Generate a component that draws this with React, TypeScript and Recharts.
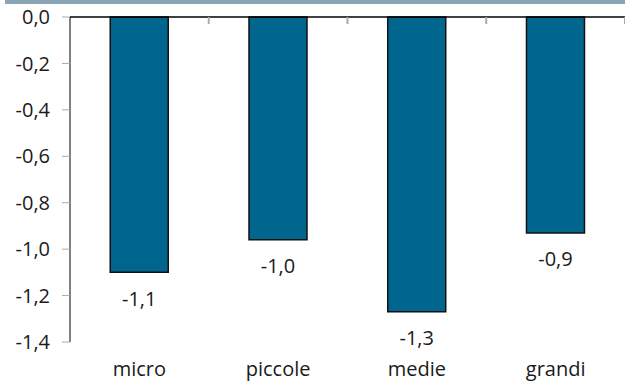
import { BarChart, Bar, XAxis, YAxis, LabelList, ReferenceLine } from "recharts";

const categories = ["micro", "piccole", "medie", "grandi"];
const values = [-1.1, -0.96, -1.27, -0.93];
const yTicks = [0, -0.2, -0.4, -0.6, -0.8, -1.0, -1.2, -1.4];

const data = categories.map((c, i) => ({ name: c, value: values[i] }));

const FONT = "'Open Sans', sans-serif";
const TOP = 17;
const fmt = (v: number) => v.toFixed(1).replace(".", ",").replace("-0,0", "0,0");

function ValueLabel(props: any) {
  const { x, y, width, height, value } = props;
  const end = Math.max(y, y + height);
  return (
    <text
      x={x + width / 2}
      y={end + 26}
      textAnchor="middle"
      dominantBaseline="central"
      fontSize={20}
      fontFamily={FONT}
      fill="#1a1a1a"
    >
      {fmt(value)}
    </text>
  );
}

// category label at the bottom, plus the small boundary tick hanging from the zero line
function CategoryTick(props: any) {
  const { x, y, payload, width, visibleTicksCount } = props;
  const bx = x + width / visibleTicksCount / 2;
  return (
    <g>
      <line x1={bx} x2={bx} y1={TOP} y2={TOP + 7} stroke="#aaa" strokeWidth={2} />
      <text x={x} y={y} dy="0.71em" textAnchor="middle" fontSize={20} fontFamily={FONT} fill="#1a1a1a">
        {payload.value}
      </text>
    </g>
  );
}

export default function App() {
  return (
    <div style={{ position: "absolute", left: 0, top: 0, width: 625, height: 383, background: "#fff" }}>
      <div style={{ position: "absolute", left: 5, top: 0, width: 620, height: 4, background: "#8aa5b8" }} />
      <BarChart
        width={625}
        height={383}
        data={data}
        margin={{ top: TOP, right: 0, left: 0, bottom: 0 }}
        barCategoryGap="29%"
      >
        <XAxis
          dataKey="name"
          axisLine={false}
          tickLine={false}
          tickSize={0}
          tickMargin={20}
          height={41}
          interval={0}
          tick={<CategoryTick />}
        />
        <YAxis
          domain={[-1.4, 0]}
          ticks={yTicks}
          width={70}
          interval={0}
          tickSize={8}
          tickMargin={12}
          axisLine={{ stroke: "#000" }}
          tickLine={{ stroke: "#aaa" }}
          tickFormatter={fmt}
          tick={{ fontSize: 20, fontFamily: FONT, fill: "#1a1a1a" }}
        />
        <ReferenceLine y={0} stroke="#000" strokeWidth={1.5} />
        <Bar dataKey="value" fill="#00668e" stroke="#111" strokeWidth={1.5} isAnimationActive={false}>
          <LabelList dataKey="value" content={ValueLabel} />
        </Bar>
      </BarChart>
    </div>
  );
}
